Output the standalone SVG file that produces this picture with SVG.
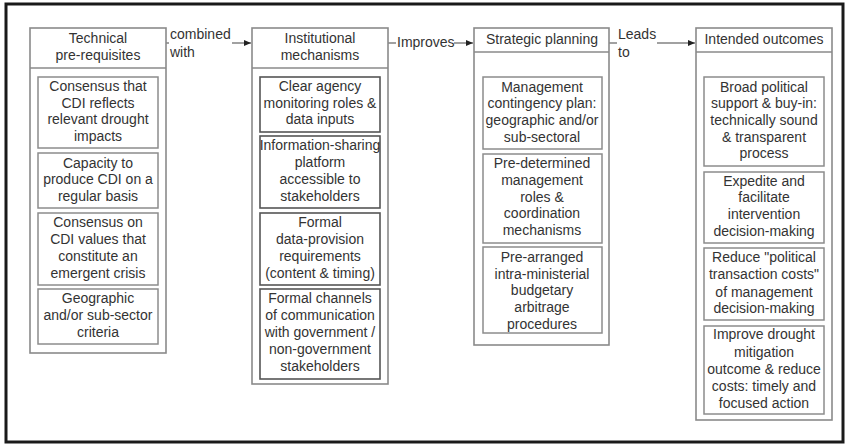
<svg xmlns="http://www.w3.org/2000/svg" width="850" height="445" viewBox="0 0 850 445">
<style>
text{font-family:"Liberation Sans",Arial,sans-serif;font-size:14px;fill:#333;text-anchor:middle}
.lbl{text-anchor:start}
.outer{fill:#fff;stroke:#8a8a8a;stroke-width:1.6}
.div{stroke:#8a8a8a;stroke-width:1.6}
.in1{fill:#fff;stroke:#8c8c8c;stroke-width:1.5}
.in2{fill:#fff;stroke:#555;stroke-width:1.6}
.conn{stroke:#444;stroke-width:1.2;fill:none}
</style>
<defs>
<marker id="ah" markerWidth="8" markerHeight="8" refX="7" refY="4" orient="auto" markerUnits="userSpaceOnUse">
<path d="M0,1 L7,4 L0,7 Z" fill="#222"/>
</marker>
</defs>
<rect x="0" y="0" width="850" height="445" fill="#fff"/>
<rect x="6" y="4" width="837" height="438" fill="none" stroke="#1a1a1a" stroke-width="3"/>

<g id="connectors">
<line class="conn" x1="166" y1="43" x2="251" y2="43" marker-end="url(#ah)"/>
<rect x="169" y="26" width="63" height="34" fill="#fff"/>
<text class="lbl" x="170" y="39">combined</text>
<text class="lbl" x="170" y="57">with</text>
<line class="conn" x1="388" y1="43" x2="473" y2="43" marker-end="url(#ah)"/>
<rect x="396" y="33" width="58" height="18" fill="#fff"/>
<text class="lbl" x="397" y="47">Improves</text>
<line class="conn" x1="609" y1="43" x2="695" y2="43" marker-end="url(#ah)"/>
<rect x="617" y="26" width="40" height="34" fill="#fff"/>
<text class="lbl" x="618" y="39">Leads</text>
<text class="lbl" x="618" y="57">to</text>
</g>

<g id="technical">
<rect class="outer" x="30" y="28" width="136" height="325"/>
<line class="div" x1="30" y1="68" x2="166" y2="68"/>
<text x="98" y="43">Technical</text>
<text x="98" y="60">pre-requisites</text>
</g>
<g id="t1">
<rect class="in1" x="38" y="77" width="120" height="71"/>
<text x="98" y="91">Consensus that</text>
<text x="98" y="108">CDI reflects</text>
<text x="98" y="124">relevant drought</text>
<text x="98" y="141">impacts</text>
</g>
<g id="t2">
<rect class="in1" x="38" y="153" width="120" height="55"/>
<text x="98" y="168">Capacity to</text>
<text x="98" y="184">produce CDI on a</text>
<text x="98" y="201">regular basis</text>
</g>
<g id="t3">
<rect class="in1" x="38" y="213" width="120" height="72"/>
<text x="98" y="227">Consensus on</text>
<text x="98" y="244">CDI values that</text>
<text x="98" y="261">constitute an</text>
<text x="98" y="278">emergent crisis</text>
</g>
<g id="t4">
<rect class="in1" x="38" y="289" width="120" height="55"/>
<text x="98" y="303">Geographic</text>
<text x="98" y="320">and/or sub-sector</text>
<text x="98" y="337">criteria</text>
</g>

<g id="institutional">
<rect class="outer" x="252" y="28" width="136" height="356"/>
<line class="div" x1="252" y1="68" x2="388" y2="68"/>
<text x="320" y="43">Institutional</text>
<text x="320" y="60">mechanisms</text>
</g>
<g id="i1">
<rect class="in2" x="260" y="77" width="120" height="55"/>
<text x="320" y="91">Clear agency</text>
<text x="320" y="108">monitoring roles &amp;</text>
<text x="320" y="124">data inputs</text>
</g>
<g id="i2">
<rect class="in2" x="260" y="136" width="120" height="72"/>
<text x="320" y="150">Information-sharing</text>
<text x="320" y="167">platform</text>
<text x="320" y="184">accessible to</text>
<text x="320" y="201">stakeholders</text>
</g>
<g id="i3">
<rect class="in2" x="260" y="213" width="120" height="72"/>
<text x="320" y="227">Formal</text>
<text x="320" y="244">data-provision</text>
<text x="320" y="261">requirements</text>
<text x="320" y="278">(content &amp; timing)</text>
</g>
<g id="i4">
<rect class="in2" x="260" y="289" width="120" height="90"/>
<text x="320" y="303">Formal channels</text>
<text x="320" y="320">of communication</text>
<text x="320" y="337">with government /</text>
<text x="320" y="354">non-government</text>
<text x="320" y="371">stakeholders</text>
</g>

<g id="strategic">
<rect class="outer" x="474" y="28" width="135" height="317"/>
<line class="div" x1="474" y1="52" x2="609" y2="52"/>
<text x="542" y="44">Strategic planning</text>
</g>
<g id="s1">
<rect class="in1" x="483" y="77" width="119" height="72"/>
<text x="542" y="92">Management</text>
<text x="542" y="108">contingency plan:</text>
<text x="542" y="125">geographic and/or</text>
<text x="542" y="142">sub-sectoral</text>
</g>
<g id="s2">
<rect class="in1" x="483" y="154" width="119" height="89"/>
<text x="542" y="168">Pre-determined</text>
<text x="542" y="185">management</text>
<text x="542" y="202">roles &amp;</text>
<text x="542" y="218">coordination</text>
<text x="542" y="235">mechanisms</text>
</g>
<g id="s3">
<rect class="in1" x="483" y="247" width="119" height="86"/>
<text x="542" y="262">Pre-arranged</text>
<text x="542" y="279">intra-ministerial</text>
<text x="542" y="295">budgetary</text>
<text x="542" y="312">arbitrage</text>
<text x="542" y="329">procedures</text>
</g>

<g id="outcomes">
<rect class="outer" x="696" y="28" width="136" height="392"/>
<line class="div" x1="696" y1="52" x2="832" y2="52"/>
<text x="764" y="44">Intended outcomes</text>
</g>
<g id="o1">
<rect class="in1" x="704" y="77" width="120" height="89"/>
<text x="764" y="92">Broad political</text>
<text x="764" y="108">support &amp; buy-in:</text>
<text x="764" y="125">technically sound</text>
<text x="764" y="142">&amp; transparent</text>
<text x="764" y="158">process</text>
</g>
<g id="o2">
<rect class="in1" x="704" y="172" width="120" height="71"/>
<text x="764" y="186">Expedite and</text>
<text x="764" y="202">facilitate</text>
<text x="764" y="219">intervention</text>
<text x="764" y="236">decision-making</text>
</g>
<g id="o3">
<rect class="in1" x="704" y="248" width="120" height="72"/>
<text x="764" y="262">Reduce "political</text>
<text x="764" y="279">transaction costs"</text>
<text x="764" y="297">of management</text>
<text x="764" y="313">decision-making</text>
</g>
<g id="o4">
<rect class="in1" x="704" y="326" width="120" height="88"/>
<text x="764" y="339">Improve drought</text>
<text x="764" y="357">mitigation</text>
<text x="764" y="374">outcome &amp; reduce</text>
<text x="764" y="391">costs: timely and</text>
<text x="764" y="408">focused action</text>
</g>
</svg>
